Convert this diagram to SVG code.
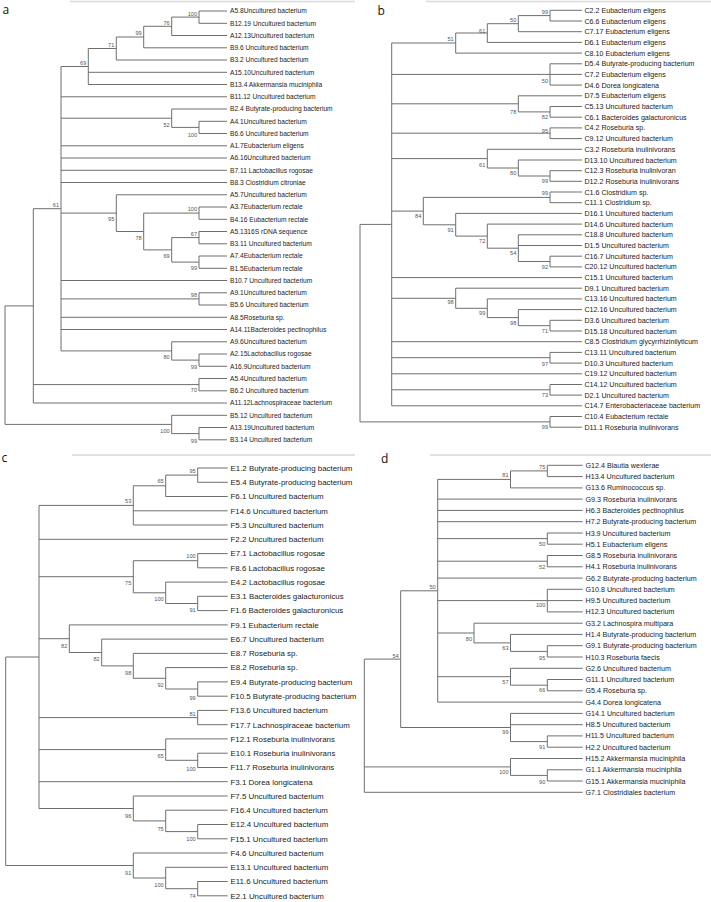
<svg xmlns="http://www.w3.org/2000/svg" width="711" height="902" viewBox="0 0 711 902">
<style>
text{font-family:"Liberation Sans",Arial,sans-serif;fill:#222}
.tree{fill:none;stroke:#6e6e6e;stroke-width:1}
.rule{fill:none;stroke:#d9d9d9;stroke-width:1.5}
.pl{font-family:"Open Sans","Liberation Sans",sans-serif;font-size:12px;fill:#111}
.la{font-size:6.65px}
.lb{font-size:7.1px}
.lc{font-size:7.9px}
.ld{font-size:7.15px}
.bs{font-size:5.6px;fill:#555;text-anchor:end}
</style>
<rect width="711" height="902" fill="#fff"/>

<!-- ============ PANEL A ============ -->
<g id="panel-a">
<text class="pl" x="2.5" y="14">a</text>
<path class="rule" d="M70 1.5H355"/>
<g id="a-connectors">
<path class="tree" d="M5 305.9V424.4M5 305.9H33.3M5 424.4H171.7
M33.3 208.7V403M33.3 208.7H61M33.3 384.6H199M33.3 403H227
M61 66.5V350.9M61 66.5H88.3M61 96.8H227M61 118.2H171.7M61 145.8H227M61 158H227M61 170.3H227M61 182.5H227M61 213.1H116.3M61 280.5H227M61 298.9H199M61 317.3H227M61 329.5H227M61 350.9H171.7
M88.3 48.5V84.5M88.3 48.5H116.3M88.3 72.3H227M88.3 84.5H227
M116.3 37V60M116.3 37H143.7M116.3 60H227
M143.7 26.3V47.8M143.7 26.3H171.7M143.7 47.8H227
M171.7 17.1V35.5M171.7 17.1H199M171.7 35.5H227
M199 11V23.3M199 11H227M199 23.3H227
M171.7 109V127.4M171.7 109H227M171.7 127.4H199
M199 121.3V133.5M199 121.3H227M199 133.5H227
M116.3 194.8V231.5M116.3 194.8H227M116.3 231.5H143.7
M143.7 213.1V249.9M143.7 213.1H199M143.7 249.9H171.7
M199 207V219.3M199 207H227M199 219.3H227
M171.7 237.6V262.1M171.7 237.6H199M171.7 262.1H199
M199 231.5V243.8M199 231.5H227M199 243.8H227
M199 256V268.3M199 256H227M199 268.3H227
M199 292.8V305M199 292.8H227M199 305H227
M171.7 341.8V360.1M171.7 341.8H227M171.7 360.1H199
M199 354V366.3M199 354H227M199 366.3H227
M199 378.5V390.8M199 378.5H227M199 390.8H227
M171.7 415.3V433.6M171.7 415.3H227M171.7 433.6H199
M199 427.5V439.8M199 427.5H227M199 439.8H227"/>
</g>
<g id="a-bootstrap">
<text class="bs" x="197" y="16">100</text>
<text class="bs" x="169.7" y="25">76</text>
<text class="bs" x="141.7" y="35">99</text>
<text class="bs" x="114.3" y="47">71</text>
<text class="bs" x="86.3" y="65">69</text>
<text class="bs" x="169.7" y="127">52</text>
<text class="bs" x="197" y="137">100</text>
<text class="bs" x="59" y="207">61</text>
<text class="bs" x="197" y="211">100</text>
<text class="bs" x="114.3" y="221">95</text>
<text class="bs" x="141.7" y="240">78</text>
<text class="bs" x="197" y="236">67</text>
<text class="bs" x="169.7" y="258">69</text>
<text class="bs" x="197" y="270">99</text>
<text class="bs" x="197" y="297">98</text>
<text class="bs" x="169.7" y="359">80</text>
<text class="bs" x="197" y="369">99</text>
<text class="bs" x="197" y="392">70</text>
<text class="bs" x="169.7" y="433">100</text>
<text class="bs" x="197" y="443">99</text>
</g>
<g class="la">
<g id="a-A5-8"><text class="la" x="230" y="13.3">A5.8Uncultured bacterium</text></g>
<g id="a-B12-19"><text class="la" x="230" y="25.6">B12.19 Uncultured bacterium</text></g>
<g id="a-A12-13"><text class="la" x="230" y="37.8">A12.13Uncultured bacterium</text></g>
<g id="a-B9-6"><text class="la" x="230" y="50.1">B9.6 Uncultured bacterium</text></g>
<g id="a-B3-2"><text class="la" x="230" y="62.3">B3.2 Uncultured bacterium</text></g>
<g id="a-A15-10"><text class="la" x="230" y="74.6">A15.10Uncultured bacterium</text></g>
<g id="a-B13-4"><text class="la" x="230" y="86.8">B13.4 Akkermansia muciniphila</text></g>
<g id="a-B11-12"><text class="la" x="230" y="99.1">B11.12 Uncultured bacterium</text></g>
<g id="a-B2-4"><text class="la" x="230" y="111.3">B2.4 Butyrate-producing bacterium</text></g>
<g id="a-A4-1"><text class="la" x="230" y="123.6">A4.1Uncultured bacterium</text></g>
<g id="a-B6-6"><text class="la" x="230" y="135.8">B6.6 Uncultured bacterium</text></g>
<g id="a-A1-7"><text class="la" x="230" y="148.1">A1.7Eubacterium eligens</text></g>
<g id="a-A6-16"><text class="la" x="230" y="160.3">A6.16Uncultured bacterium</text></g>
<g id="a-B7-11"><text class="la" x="230" y="172.6">B7.11 Lactobacillus rogosae</text></g>
<g id="a-B8-3"><text class="la" x="230" y="184.8">B8.3 Clostridium citroniae</text></g>
<g id="a-A5-7"><text class="la" x="230" y="197.1">A5.7Uncultured bacterium</text></g>
<g id="a-A3-7"><text class="la" x="230" y="209.3">A3.7Eubacterium rectale</text></g>
<g id="a-B4-16"><text class="la" x="230" y="221.6">B4.16 Eubacterium rectale</text></g>
<g id="a-A5-13"><text class="la" x="230" y="233.8">A5.1316S rDNA sequence</text></g>
<g id="a-B3-11"><text class="la" x="230" y="246.1">B3.11 Uncultured bacterium</text></g>
<g id="a-A7-4"><text class="la" x="230" y="258.3">A7.4Eubacterium rectale</text></g>
<g id="a-B1-5"><text class="la" x="230" y="270.6">B1.5Eubacterium rectale</text></g>
<g id="a-B10-7"><text class="la" x="230" y="282.8">B10.7 Uncultured bacterium</text></g>
<g id="a-A9-1"><text class="la" x="230" y="295.1">A9.1Uncultured bacterium</text></g>
<g id="a-B5-6"><text class="la" x="230" y="307.3">B5.6 Uncultured bacterium</text></g>
<g id="a-A8-5"><text class="la" x="230" y="319.6">A8.5Roseburia sp.</text></g>
<g id="a-A14-11"><text class="la" x="230" y="331.8">A14.11Bacteroides pectinophilus</text></g>
<g id="a-A9-6"><text class="la" x="230" y="344.1">A9.6Uncultured bacterium</text></g>
<g id="a-A2-15"><text class="la" x="230" y="356.3">A2.15Lactobacillus rogosae</text></g>
<g id="a-A16-9"><text class="la" x="230" y="368.6">A16.9Uncultured bacterium</text></g>
<g id="a-A5-4"><text class="la" x="230" y="380.8">A5.4Uncultured bacterium</text></g>
<g id="a-B6-2"><text class="la" x="230" y="393.1">B6.2 Uncultured bacterium</text></g>
<g id="a-A11-12"><text class="la" x="230" y="405.3">A11.12Lachnospiraceae bacterium</text></g>
<g id="a-B5-12"><text class="la" x="230" y="417.6">B5.12 Uncultured bacterium</text></g>
<g id="a-A13-19"><text class="la" x="230" y="429.8">A13.19Uncultured bacterium</text></g>
<g id="a-B3-14"><text class="la" x="230" y="442.1">B3.14 Uncultured bacterium</text></g>
</g>
</g>

<!-- ============ PANEL B ============ -->
<g id="panel-b">
<text class="pl" x="377.5" y="15">b</text>
<path class="rule" d="M426 1.5H711"/>
<g id="b-connectors">
<path class="tree" d="M360 224.4V421.9M360 224.4H391.7M360 421.9H550
M391.7 43V405.8M391.7 43H455.7M391.7 74.4H550M391.7 103.8H518.3M391.7 133.2H550M391.7 158.6H487.3M391.7 211.1H423.3M391.7 277.6H582M391.7 298.3H455.7M391.7 341.7H582M391.7 357.7H550M391.7 373.8H582M391.7 389.8H550M391.7 405.8H582
M455.7 33V53.1M455.7 33H487.3M455.7 53.1H582
M487.3 23.7V42.4M487.3 23.7H518.3M487.3 42.4H582
M518.3 15.6V31.7M518.3 15.6H550M518.3 31.7H582
M550 10.3V21M550 10.3H582M550 21H582
M550 63.8V85.1M550 63.8H582M550 74.4H582M550 85.1H582
M518.3 95.8V111.9M518.3 95.8H582M518.3 111.9H550
M550 106.5V117.2M550 106.5H582M550 117.2H582
M550 127.9V138.6M550 127.9H582M550 138.6H582
M487.3 149.3V168M487.3 149.3H582M487.3 168H518.3
M518.3 160V176M518.3 160H582M518.3 176H550
M550 170.7V181.3M550 170.7H582M550 181.3H582
M423.3 197.4V224.8M423.3 197.4H550M423.3 224.8H455.7
M550 192V202.7M550 192H582M550 202.7H582
M455.7 213.4V236.1M455.7 213.4H582M455.7 236.1H487.3
M487.3 224.1V248.2M487.3 224.1H582M487.3 248.2H518.3
M518.3 234.8V261.5M518.3 234.8H582M518.3 245.5H582M518.3 261.5H550
M550 256.2V266.9M550 256.2H582M550 266.9H582
M455.7 288.2V308.3M455.7 288.2H582M455.7 308.3H487.3
M487.3 298.9V317.6M487.3 298.9H582M487.3 317.6H518.3
M518.3 309.6V325.7M518.3 309.6H582M518.3 325.7H550
M550 320.3V331M550 320.3H582M550 331H582
M550 352.4V363.1M550 352.4H582M550 363.1H582
M550 384.5V395.1M550 384.5H582M550 395.1H582
M550 416.5V427.2M550 416.5H582M550 427.2H582"/>
</g>
<g id="b-bootstrap">
<text class="bs" x="548" y="14.3">99</text>
<text class="bs" x="516.3" y="22">50</text>
<text class="bs" x="485.3" y="32.7">61</text>
<text class="bs" x="453.7" y="41.3">51</text>
<text class="bs" x="548" y="83">50</text>
<text class="bs" x="516.3" y="113.7">78</text>
<text class="bs" x="548" y="119.3">82</text>
<text class="bs" x="548" y="133">95</text>
<text class="bs" x="485.3" y="167">61</text>
<text class="bs" x="516.3" y="174.7">80</text>
<text class="bs" x="548" y="183">99</text>
<text class="bs" x="548" y="195.3">99</text>
<text class="bs" x="421.3" y="218">84</text>
<text class="bs" x="453.7" y="232">91</text>
<text class="bs" x="485.3" y="242.7">72</text>
<text class="bs" x="516.3" y="254.7">54</text>
<text class="bs" x="548" y="268.7">92</text>
<text class="bs" x="453.7" y="304.3">98</text>
<text class="bs" x="485.3" y="315.3">99</text>
<text class="bs" x="516.3" y="324.7">98</text>
<text class="bs" x="548" y="332.7">71</text>
<text class="bs" x="548" y="366">97</text>
<text class="bs" x="548" y="397">73</text>
<text class="bs" x="548" y="429.3">99</text>
</g>
<g id="b-C2-2"><text class="lb" x="584.5" y="12.8">C2.2 Eubacterium eligens</text></g>
<g id="b-C6-6"><text class="lb" x="584.5" y="23.5">C6.6 Eubacterium eligens</text></g>
<g id="b-C7-17"><text class="lb" x="584.5" y="34.2">C7.17 Eubacterium eligens</text></g>
<g id="b-D6-1"><text class="lb" x="584.5" y="44.9">D6.1 Eubacterium eligens</text></g>
<g id="b-C8-10"><text class="lb" x="584.5" y="55.6">C8.10 Eubacterium eligens</text></g>
<g id="b-D5-4"><text class="lb" x="584.5" y="66.3">D5.4 Butyrate-producing bacterium</text></g>
<g id="b-C7-2"><text class="lb" x="584.5" y="76.9">C7.2 Eubacterium eligens</text></g>
<g id="b-D4-6"><text class="lb" x="584.5" y="87.6">D4.6 Dorea longicatena</text></g>
<g id="b-D7-5"><text class="lb" x="584.5" y="98.3">D7.5 Eubacterium eligens</text></g>
<g id="b-C5-13"><text class="lb" x="584.5" y="109">C5.13 Uncultured bacterium</text></g>
<g id="b-C6-1"><text class="lb" x="584.5" y="119.7">C6.1 Bacteroides galacturonicus</text></g>
<g id="b-C4-2"><text class="lb" x="584.5" y="130.4">C4.2 Roseburia sp.</text></g>
<g id="b-C9-12"><text class="lb" x="584.5" y="141.1">C9.12 Uncultured bacterium</text></g>
<g id="b-C3-2"><text class="lb" x="584.5" y="151.8">C3.2 Roseburia inulinivorans</text></g>
<g id="b-D13-10"><text class="lb" x="584.5" y="162.5">D13.10 Uncultured bacterium</text></g>
<g id="b-C12-3"><text class="lb" x="584.5" y="173.2">C12.3 Roseburia inulinivoran</text></g>
<g id="b-D12-2"><text class="lb" x="584.5" y="183.8">D12.2 Roseburia inulinivorans</text></g>
<g id="b-C1-6"><text class="lb" x="584.5" y="194.5">C1.6 Clostridium sp.</text></g>
<g id="b-C11-1"><text class="lb" x="584.5" y="205.2">C11.1 Clostridium sp.</text></g>
<g id="b-D16-1"><text class="lb" x="584.5" y="215.9">D16.1 Uncultured bacterium</text></g>
<g id="b-D14-6"><text class="lb" x="584.5" y="226.6">D14.6 Uncultured bacterium</text></g>
<g id="b-C18-8"><text class="lb" x="584.5" y="237.3">C18.8 Uncultured bacterium</text></g>
<g id="b-D1-5"><text class="lb" x="584.5" y="248">D1.5 Uncultured bacterium</text></g>
<g id="b-C16-7"><text class="lb" x="584.5" y="258.7">C16.7 Uncultured bacterium</text></g>
<g id="b-C20-12"><text class="lb" x="584.5" y="269.4">C20.12 Uncultured bacterium</text></g>
<g id="b-C15-1"><text class="lb" x="584.5" y="280.1">C15.1 Uncultured bacterium</text></g>
<g id="b-D9-1"><text class="lb" x="584.5" y="290.7">D9.1 Uncultured bacterium</text></g>
<g id="b-C13-16"><text class="lb" x="584.5" y="301.4">C13.16 Uncultured bacterium</text></g>
<g id="b-C12-16"><text class="lb" x="584.5" y="312.1">C12.16 Uncultured bacterium</text></g>
<g id="b-D3-6"><text class="lb" x="584.5" y="322.8">D3.6 Uncultured bacterium</text></g>
<g id="b-D15-18"><text class="lb" x="584.5" y="333.5">D15.18 Uncultured bacterium</text></g>
<g id="b-C8-5"><text class="lb" x="584.5" y="344.2">C8.5 Clostridium glycyrrhizinilyticum</text></g>
<g id="b-C13-11"><text class="lb" x="584.5" y="354.9">C13.11 Uncultured bacterium</text></g>
<g id="b-D10-3"><text class="lb" x="584.5" y="365.6">D10.3 Uncultured bacterium</text></g>
<g id="b-C19-12"><text class="lb" x="584.5" y="376.3">C19.12 Uncultured bacterium</text></g>
<g id="b-C14-12"><text class="lb" x="584.5" y="387">C14.12 Uncultured bacterium</text></g>
<g id="b-D2-1"><text class="lb" x="584.5" y="397.6">D2.1 Uncultured bacterium</text></g>
<g id="b-C14-7"><text class="lb" x="584.5" y="408.3">C14.7 Enterobacteriaceae bacterium</text></g>
<g id="b-C10-4"><text class="lb" x="584.5" y="419">C10.4 Eubacterium rectale</text></g>
<g id="b-D11-1"><text class="lb" x="584.5" y="429.7">D11.1 Roseburia inulinivorans</text></g>
</g>

<!-- ============ PANEL C ============ -->
<g id="panel-c">
<text class="pl" x="1.5" y="462">c</text>
<path class="rule" d="M72 455H355"/>
<g id="c-connectors">
<path class="tree" d="M5.7 657V865.5M5.7 657H39M5.7 865.5H133.3
M39 505.4V808.5M39 505.4H133.3M39 539.3H227.7M39 576.7H133.3M39 638.7H69.3M39 717.6H197.7M39 749.6H165.7M39 781.7H227.7M39 808.5H133.3
M133.3 485.8V525M133.3 485.8H165.7M133.3 510.8H227.7M133.3 525H227.7
M165.7 475.1V496.5M165.7 475.1H197.7M165.7 496.5H227.7
M197.7 468V482.3M197.7 468H227.7M197.7 482.3H227.7
M133.3 560.7V592.8M133.3 560.7H197.7M133.3 592.8H165.7
M197.7 553.6V567.8M197.7 553.6H227.7M197.7 567.8H227.7
M165.7 582.1V603.5M165.7 582.1H227.7M165.7 603.5H197.7
M197.7 596.3V610.6M197.7 596.3H227.7M197.7 610.6H227.7
M69.3 624.9V652.5M69.3 624.9H227.7M69.3 652.5H101.7
M101.7 639.1V665.9M101.7 639.1H227.7M101.7 665.9H133.3
M133.3 653.4V678.3M133.3 653.4H227.7M133.3 678.3H165.7
M165.7 667.6V689M165.7 667.6H227.7M165.7 689H197.7
M197.7 681.9V696.2M197.7 681.9H227.7M197.7 696.2H227.7
M197.7 710.4V724.7M197.7 710.4H227.7M197.7 724.7H227.7
M165.7 738.9V760.3M165.7 738.9H227.7M165.7 760.3H197.7
M197.7 753.2V767.5M197.7 753.2H227.7M197.7 767.5H227.7
M133.3 796V820.9M133.3 796H227.7M133.3 820.9H165.7
M165.7 810.2V831.6M165.7 810.2H227.7M165.7 831.6H197.7
M197.7 824.5V838.8M197.7 824.5H227.7M197.7 838.8H227.7
M133.3 853V878M133.3 853H227.7M133.3 878H165.7
M165.7 867.3V888.7M165.7 867.3H227.7M165.7 888.7H197.7
M197.7 881.5V895.8M197.7 881.5H227.7M197.7 895.8H227.7"/>
</g>
<g id="c-bootstrap">
<text class="bs" x="195.7" y="473">95</text>
<text class="bs" x="163.7" y="483">65</text>
<text class="bs" x="131.3" y="503">53</text>
<text class="bs" x="195.7" y="558.3">100</text>
<text class="bs" x="131.3" y="585">75</text>
<text class="bs" x="163.7" y="600.6">100</text>
<text class="bs" x="195.7" y="612.3">91</text>
<text class="bs" x="67.3" y="648">82</text>
<text class="bs" x="99.7" y="661.3">82</text>
<text class="bs" x="131.3" y="675">98</text>
<text class="bs" x="163.7" y="687.3">92</text>
<text class="bs" x="195.7" y="699.6">99</text>
<text class="bs" x="195.7" y="715.6">81</text>
<text class="bs" x="163.7" y="758.3">65</text>
<text class="bs" x="195.7" y="770.6">100</text>
<text class="bs" x="131.3" y="818">96</text>
<text class="bs" x="163.7" y="830.6">75</text>
<text class="bs" x="195.7" y="840.6">100</text>
<text class="bs" x="131.3" y="875">91</text>
<text class="bs" x="163.7" y="887.3">100</text>
<text class="bs" x="195.7" y="898">74</text>
</g>
<g id="c-E1-2"><text class="lc" x="230.5" y="470.8">E1.2 Butyrate-producing bacterium</text></g>
<g id="c-E5-4"><text class="lc" x="230.5" y="485.1">E5.4 Butyrate-producing bacterium</text></g>
<g id="c-F6-1"><text class="lc" x="230.5" y="499.3">F6.1 Uncultured bacterium</text></g>
<g id="c-F14-6"><text class="lc" x="230.5" y="513.6">F14.6 Uncultured bacterium</text></g>
<g id="c-F5-3"><text class="lc" x="230.5" y="527.8">F5.3 Uncultured bacterium</text></g>
<g id="c-F2-2"><text class="lc" x="230.5" y="542.1">F2.2 Uncultured bacterium</text></g>
<g id="c-E7-1"><text class="lc" x="230.5" y="556.4">E7.1 Lactobacillus rogosae</text></g>
<g id="c-F8-6"><text class="lc" x="230.5" y="570.6">F8.6 Lactobacillus rogosae</text></g>
<g id="c-E4-2"><text class="lc" x="230.5" y="584.9">E4.2 Lactobacillus rogosae</text></g>
<g id="c-E3-1"><text class="lc" x="230.5" y="599.1">E3.1 Bacteroides galacturonicus</text></g>
<g id="c-F1-6"><text class="lc" x="230.5" y="613.4">F1.6 Bacteroides galacturonicus</text></g>
<g id="c-F9-1"><text class="lc" x="230.5" y="627.7">F9.1 Eubacterium rectale</text></g>
<g id="c-E6-7"><text class="lc" x="230.5" y="641.9">E6.7 Uncultured bacterium</text></g>
<g id="c-E8-7"><text class="lc" x="230.5" y="656.2">E8.7 Roseburia sp.</text></g>
<g id="c-E8-2"><text class="lc" x="230.5" y="670.4">E8.2 Roseburia sp.</text></g>
<g id="c-E9-4"><text class="lc" x="230.5" y="684.7">E9.4 Butyrate-producing bacterium</text></g>
<g id="c-F10-5"><text class="lc" x="230.5" y="699">F10.5 Butyrate-producing bacterium</text></g>
<g id="c-F13-6"><text class="lc" x="230.5" y="713.2">F13.6 Uncultured bacterium</text></g>
<g id="c-F17-7"><text class="lc" x="230.5" y="727.5">F17.7 Lachnospiraceae bacterium</text></g>
<g id="c-F12-1"><text class="lc" x="230.5" y="741.7">F12.1 Roseburia inulinivorans</text></g>
<g id="c-E10-1"><text class="lc" x="230.5" y="756">E10.1 Roseburia inulinivorans</text></g>
<g id="c-F11-7"><text class="lc" x="230.5" y="770.3">F11.7 Roseburia inulinivorans</text></g>
<g id="c-F3-1"><text class="lc" x="230.5" y="784.5">F3.1 Dorea longicatena</text></g>
<g id="c-F7-5"><text class="lc" x="230.5" y="798.8">F7.5 Uncultured bacterium</text></g>
<g id="c-F16-4"><text class="lc" x="230.5" y="813">F16.4 Uncultured bacterium</text></g>
<g id="c-E12-4"><text class="lc" x="230.5" y="827.3">E12.4 Uncultured bacterium</text></g>
<g id="c-F15-1"><text class="lc" x="230.5" y="841.6">F15.1 Uncultured bacterium</text></g>
<g id="c-F4-6"><text class="lc" x="230.5" y="855.8">F4.6 Uncultured bacterium</text></g>
<g id="c-E13-1"><text class="lc" x="230.5" y="870.1">E13.1 Uncultured bacterium</text></g>
<g id="c-E11-6"><text class="lc" x="230.5" y="884.3">E11.6 Uncultured bacterium</text></g>
<g id="c-E2-1"><text class="lc" x="230.5" y="898.6">E2.1 Uncultured bacterium</text></g>
</g>

<!-- ============ PANEL D ============ -->
<g id="panel-d">
<text class="pl" x="381" y="463">d</text>
<path class="rule" d="M430 455H711"/>
<g id="d-connectors">
<path class="tree" d="M364.3 659.1V792.3M364.3 659.1H400.7M364.3 766.9H510.5M364.3 792.3H582.7
M400.7 590.8V727.5M400.7 590.8H437.7M400.7 727.5H510.5
M437.7 479.4V702.1M437.7 479.4H510.5M437.7 499.1H582.7M437.7 510.4H582.7M437.7 521.7H582.7M437.7 538.6H547.3M437.7 561.2H547.3M437.7 578.1H582.7M437.7 600.6H547.3M437.7 633H474M437.7 676.7H510.5M437.7 702.1H582.7
M510.5 470.9V487.9M510.5 470.9H547.3M510.5 487.9H582.7
M547.3 465.3V476.6M547.3 465.3H582.7M547.3 476.6H582.7
M547.3 533V544.2M547.3 533H582.7M547.3 544.2H582.7
M547.3 555.5V566.8M547.3 555.5H582.7M547.3 566.8H582.7
M547.3 589.3V611.9M547.3 589.3H582.7M547.3 600.6H582.7M547.3 611.9H582.7
M474 623.2V642.9M474 623.2H582.7M474 642.9H510.5
M510.5 634.4V651.4M510.5 634.4H582.7M510.5 651.4H547.3
M547.3 645.7V657M547.3 645.7H582.7M547.3 657H582.7
M510.5 668.3V685.2M510.5 668.3H582.7M510.5 685.2H547.3
M547.3 679.5V690.8M547.3 679.5H582.7M547.3 690.8H582.7
M510.5 713.4V741.6M510.5 713.4H582.7M510.5 724.7H582.7M510.5 741.6H547.3
M547.3 735.9V747.2M547.3 735.9H582.7M547.3 747.2H582.7
M510.5 758.5V775.4M510.5 758.5H582.7M510.5 775.4H547.3
M547.3 769.8V781M547.3 769.8H582.7M547.3 781H582.7"/>
</g>
<g id="d-bootstrap">
<text class="bs" x="545.3" y="469.3">75</text>
<text class="bs" x="508.5" y="477">81</text>
<text class="bs" x="545.3" y="546.3">50</text>
<text class="bs" x="545.3" y="568.7">52</text>
<text class="bs" x="435.7" y="588.7">50</text>
<text class="bs" x="545.3" y="607">100</text>
<text class="bs" x="472" y="641">80</text>
<text class="bs" x="508.5" y="650.3">63</text>
<text class="bs" x="545.3" y="659.7">95</text>
<text class="bs" x="398.7" y="658">54</text>
<text class="bs" x="508.5" y="684.3">57</text>
<text class="bs" x="545.3" y="692">66</text>
<text class="bs" x="508.5" y="734.3">99</text>
<text class="bs" x="545.3" y="748.7">91</text>
<text class="bs" x="508.5" y="774.3">100</text>
<text class="bs" x="545.3" y="783.7">90</text>
</g>
<g id="d-G12-4"><text class="ld" x="585.5" y="467.8">G12.4 Blautia wexlerae</text></g>
<g id="d-H13-4"><text class="ld" x="585.5" y="479.1">H13.4 Uncultured bacterium</text></g>
<g id="d-G13-6"><text class="ld" x="585.5" y="490.4">G13.6 Ruminococcus sp.</text></g>
<g id="d-G9-3"><text class="ld" x="585.5" y="501.6">G9.3 Roseburia inulinivorans</text></g>
<g id="d-H6-3"><text class="ld" x="585.5" y="512.9">H6.3 Bacteroides pectinophilus</text></g>
<g id="d-H7-2"><text class="ld" x="585.5" y="524.2">H7.2 Butyrate-producing bacterium</text></g>
<g id="d-H3-9"><text class="ld" x="585.5" y="535.5">H3.9 Uncultured bacterium</text></g>
<g id="d-H5-1"><text class="ld" x="585.5" y="546.7">H5.1 Eubacterium eligens</text></g>
<g id="d-G8-5"><text class="ld" x="585.5" y="558">G8.5 Roseburia inulinivorans</text></g>
<g id="d-H4-1"><text class="ld" x="585.5" y="569.3">H4.1 Roseburia inulinivorans</text></g>
<g id="d-G6-2"><text class="ld" x="585.5" y="580.6">G6.2 Butyrate-producing bacterium</text></g>
<g id="d-G10-8"><text class="ld" x="585.5" y="591.8">G10.8 Uncultured bacterium</text></g>
<g id="d-H9-5"><text class="ld" x="585.5" y="603.1">H9.5 Uncultured bacterium</text></g>
<g id="d-H12-3"><text class="ld" x="585.5" y="614.4">H12.3 Uncultured bacterium</text></g>
<g id="d-G3-2"><text class="ld" x="585.5" y="625.7">G3.2 Lachnospira multipara</text></g>
<g id="d-H1-4"><text class="ld" x="585.5" y="636.9">H1.4 Butyrate-producing bacterium</text></g>
<g id="d-G9-1"><text class="ld" x="585.5" y="648.2">G9.1 Butyrate-producing bacterium</text></g>
<g id="d-H10-3"><text class="ld" x="585.5" y="659.5">H10.3 Roseburia faecis</text></g>
<g id="d-G2-6"><text class="ld" x="585.5" y="670.8">G2.6 Uncultured bacterium</text></g>
<g id="d-G11-1"><text class="ld" x="585.5" y="682">G11.1 Uncultured bacterium</text></g>
<g id="d-G5-4"><text class="ld" x="585.5" y="693.3">G5.4 Roseburia sp.</text></g>
<g id="d-G4-4"><text class="ld" x="585.5" y="704.6">G4.4 Dorea longicatena</text></g>
<g id="d-G14-1"><text class="ld" x="585.5" y="715.9">G14.1 Uncultured bacterium</text></g>
<g id="d-H8-5"><text class="ld" x="585.5" y="727.2">H8.5 Uncultured bacterium</text></g>
<g id="d-H11-5"><text class="ld" x="585.5" y="738.4">H11.5 Uncultured bacterium</text></g>
<g id="d-H2-2"><text class="ld" x="585.5" y="749.7">H2.2 Uncultured bacterium</text></g>
<g id="d-H15-2"><text class="ld" x="585.5" y="761">H15.2 Akkermansia muciniphila</text></g>
<g id="d-G1-1"><text class="ld" x="585.5" y="772.3">G1.1 Akkermansia muciniphila</text></g>
<g id="d-G15-1"><text class="ld" x="585.5" y="783.5">G15.1 Akkermansia muciniphila</text></g>
<g id="d-G7-1"><text class="ld" x="585.5" y="794.8">G7.1 Clostridiales bacterium</text></g>
</g>
</svg>
